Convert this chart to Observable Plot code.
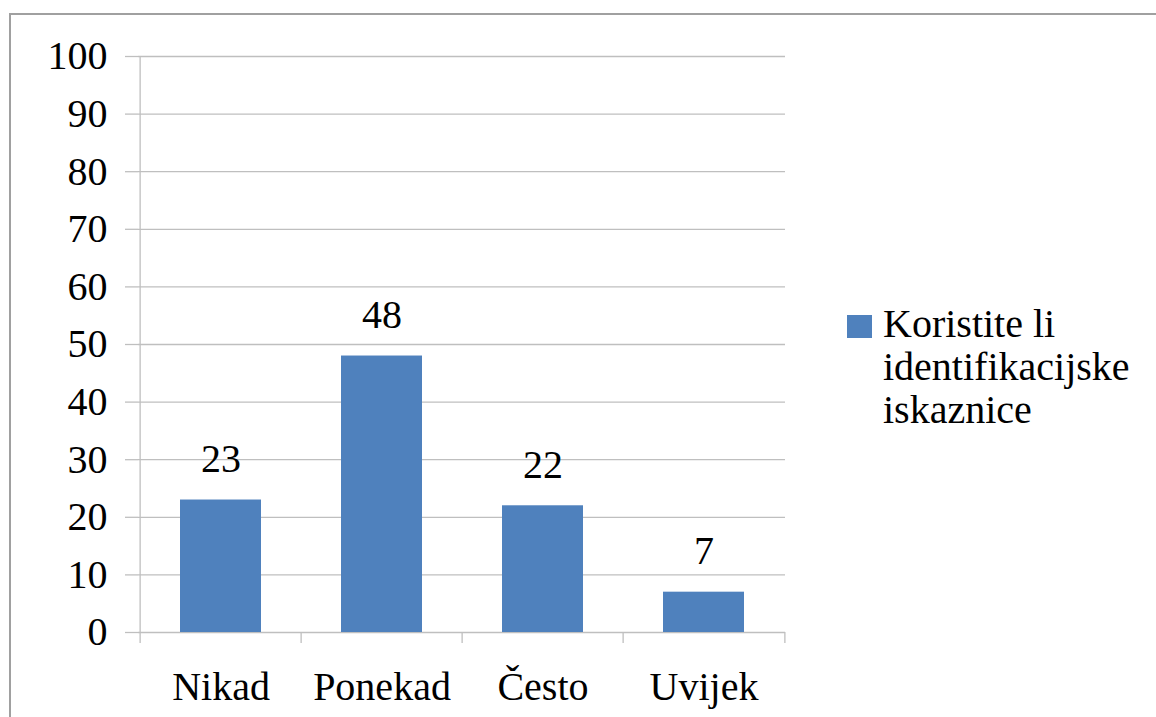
<!DOCTYPE html>
<html>
<head>
<meta charset="utf-8">
<script src="https://cdn.jsdelivr.net/npm/d3@7"></script>
<script src="https://cdn.jsdelivr.net/npm/@observablehq/plot@0.6"></script>
<style>
  html, body { margin: 0; padding: 0; background: #fff; }
  #wrap { position: relative; width: 1156px; height: 717px; overflow: hidden; }
  #frame { position: absolute; left: 9px; top: 13px; width: 1200px; height: 800px; border-top: 2px solid #a0a0a0; border-left: 2px solid #a0a0a0; box-sizing: border-box; }
  #chart { position: absolute; left: 0; top: 0; }
  #legend { position: absolute; left: 847px; top: 302px; font-size: 40px; line-height: 43px; color: #000; }
  #legend .sw { position: absolute; left: 0; top: 13px; width: 25px; height: 23px; background: #4f81bd; }
  #legend .lab { position: absolute; left: 36px; top: 0; white-space: nowrap; }
</style>
</head>
<body>
<div id="wrap">
  <div id="frame"></div>
  <div id="chart"></div>
  <div id="legend"><div class="sw"></div><div class="lab"></div></div>
</div>
<script>
const categories = ["Nikad", "Ponekad", "Često", "Uvijek"];
const values = [23, 48, 22, 7];
const yTicks = [0, 10, 20, 30, 40, 50, 60, 70, 80, 90, 100];
const seriesLines = ["Koristite li", "identifikacijske", "iskaznice"];

const data = categories.map((c, i) => ({cat: c, value: values[i]}));

const W = 1156, H = 717, mL = 138, mR = 371, mT = 56, mB = 85;
const step = (W - mL - mR) / categories.length;
const frameH = H - mT - mB;
const gray = "#bfbfbf";
const fs = 40;
const serif = "'Liberation Serif'";

document.getElementById("wrap").style.fontFamily = serif;

const chart = Plot.plot({
  width: W, height: H,
  marginLeft: mL, marginRight: mR, marginTop: mT, marginBottom: mB,
  style: {fontFamily: serif, fontSize: fs + "px", color: "#000", background: "transparent", overflow: "visible"},
  x: {domain: categories, paddingInner: 0.5, paddingOuter: 0.25, label: null},
  y: {domain: [0, 100], label: null},
  marks: [
    Plot.gridY(yTicks, {stroke: gray, strokeOpacity: 1, strokeWidth: 1.3}),
    Plot.axisY(yTicks, {tickSize: 13, tickPadding: 18, stroke: gray, strokeOpacity: 1, strokeWidth: 1.3, fontSize: fs, fontFamily: serif, fill: "#000", label: null}),
    Plot.ruleX([categories[0]], {x: d => d, dx: -step / 2, stroke: gray, strokeWidth: 1.3, insetBottom: -11}),
    Plot.ruleX(categories.slice(1), {x: d => d, dx: -step / 2, stroke: gray, strokeWidth: 1.3, insetTop: frameH, insetBottom: -11}),
    Plot.ruleX([categories[categories.length - 1]], {x: d => d, dx: step / 2, stroke: gray, strokeWidth: 1.3, insetTop: frameH, insetBottom: -11}),
    Plot.barY(data, {x: "cat", y: "value", fill: "#4f81bd"}),
    Plot.text(data, {x: "cat", y: "value", text: d => String(d.value), dy: -41, fontSize: fs, fontFamily: serif, fill: "#000"}),
    Plot.axisX({tickSize: 0, tickPadding: 39, fontSize: fs, fontFamily: serif, fill: "#000", label: null})
  ]
});
chart.querySelectorAll("text").forEach(t => { t.style.fontFamily = serif; });
document.getElementById("chart").appendChild(chart);
const lab = document.querySelector("#legend .lab");
lab.style.fontFamily = serif;
lab.innerHTML = seriesLines.join("<br>");
</script>
</body>
</html>
